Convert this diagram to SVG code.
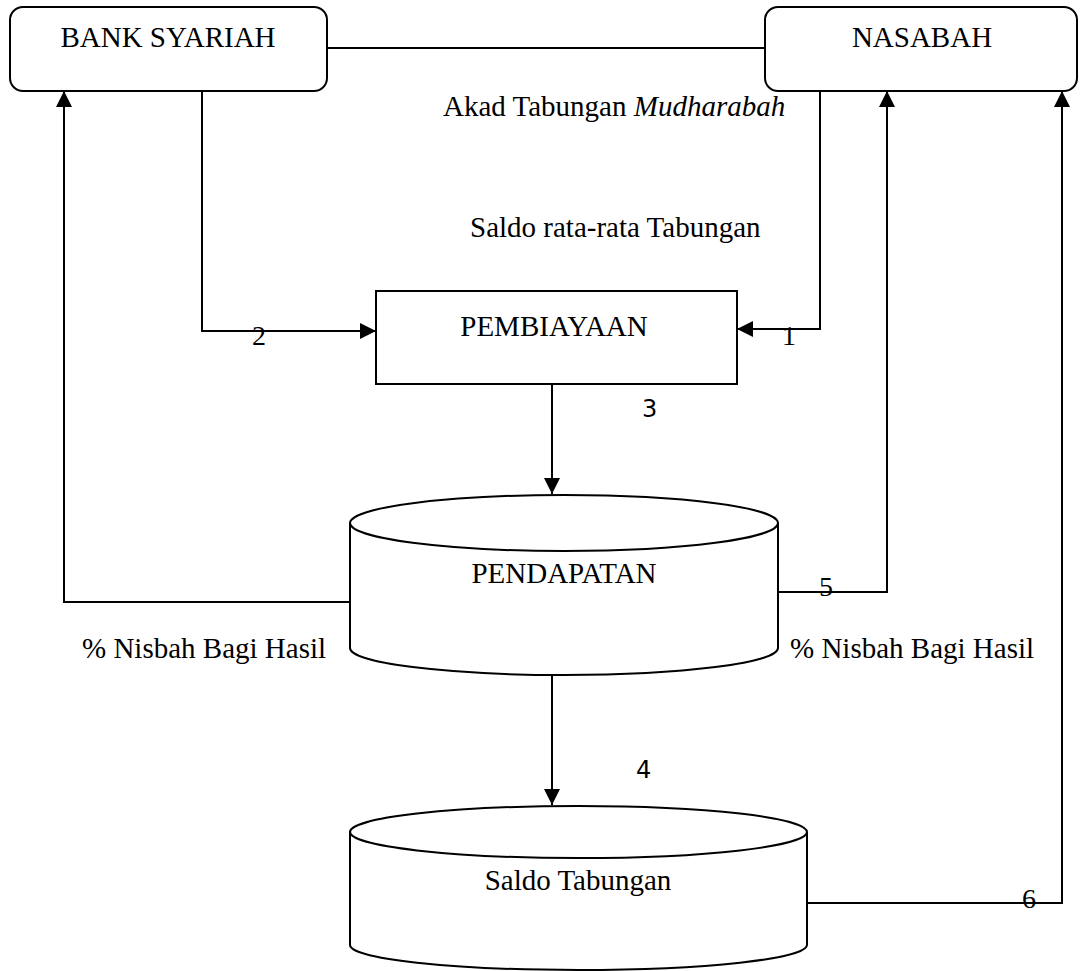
<svg xmlns="http://www.w3.org/2000/svg" width="1080" height="971" viewBox="0 0 1080 971">
<defs>
<style>
.box{fill:#fff;stroke:#000;stroke-width:2}
.ln{fill:none;stroke:#000;stroke-width:2}
.t{font-family:"Liberation Serif","Times New Roman",serif;font-size:29px;fill:#000}
.c{text-anchor:middle}
.n{font-family:"Liberation Serif","Times New Roman",serif;font-size:28px;fill:#000}
.s{font-family:"DejaVu Sans",sans-serif;font-size:24px;fill:#000}
</style>
<marker id="ah" viewBox="0 0 10 10" refX="10" refY="5" markerWidth="8" markerHeight="8" markerUnits="userSpaceOnUse" orient="auto">
<path d="M0,0 L10,5 L0,10 z" fill="#000"/>
</marker>
<marker id="ah2" viewBox="0 0 16 16" refX="16" refY="8" markerWidth="16" markerHeight="16" markerUnits="userSpaceOnUse" orient="auto">
<path d="M0,0 L16,8 L0,16 z" fill="#000"/>
</marker>
</defs>
<rect width="1080" height="971" fill="#fff"/>

<g id="connectors">
<line class="ln" x1="327" y1="48" x2="765" y2="48"/>
<polyline class="ln" points="202,91 202,331 376,331" marker-end="url(#ah2)"/>
<polyline class="ln" points="820,91 820,329 737,329" marker-end="url(#ah2)"/>
<line class="ln" x1="552" y1="384" x2="552" y2="494" marker-end="url(#ah2)"/>
<line class="ln" x1="552" y1="675" x2="552" y2="805" marker-end="url(#ah2)"/>
<polyline class="ln" points="350,602 64,602 64,91" marker-end="url(#ah2)"/>
<polyline class="ln" points="778,592 887,592 887,91" marker-end="url(#ah2)"/>
<polyline class="ln" points="807,903 1062,903 1062,91" marker-end="url(#ah2)"/>
</g>

<g id="bank-syariah">
<rect class="box" x="10" y="7" width="317" height="84" rx="13"/>
<text class="t c" x="168" y="47">BANK SYARIAH</text>
</g>

<g id="nasabah">
<rect class="box" x="765" y="7" width="312" height="84" rx="13"/>
<text class="t c" x="922" y="47">NASABAH</text>
</g>

<g id="pembiayaan">
<rect class="box" x="376" y="291" width="361" height="93"/>
<text class="t c" x="554" y="336">PEMBIAYAAN</text>
</g>

<g id="pendapatan">
<path class="box" d="M350,523 L350,648 A214,27 0 0 0 778,648 L778,523"/>
<ellipse class="box" cx="564" cy="523" rx="214" ry="28"/>
<text class="t c" x="564" y="583">PENDAPATAN</text>
</g>

<g id="saldo-tabungan">
<path class="box" d="M350,832 L350,945 A228.5,25 0 0 0 807,945 L807,832"/>
<ellipse class="box" cx="578.5" cy="832" rx="228.5" ry="26"/>
<text class="t c" x="578" y="890">Saldo Tabungan</text>
</g>

<g id="labels">
<text class="t" x="443" y="116">Akad Tabungan <tspan font-style="italic">Mudharabah</tspan></text>
<text class="t" x="470" y="237">Saldo rata-rata Tabungan</text>
<text class="t" x="82" y="658">% Nisbah Bagi Hasil</text>
<text class="t" x="790" y="658">% Nisbah Bagi Hasil</text>
<text class="n" x="252" y="345">2</text>
<text class="n" x="782" y="345">1</text>
<text class="s" x="642" y="417">3</text>
<text class="s" x="636" y="778">4</text>
<text class="n" x="819" y="596">5</text>
<text class="n" x="1022" y="908">6</text>
</g>
</svg>
